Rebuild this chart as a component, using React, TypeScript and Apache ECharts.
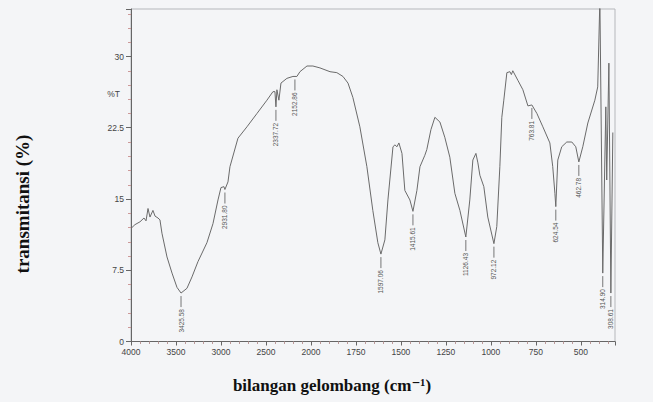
import React, { useEffect, useRef } from "react";
import * as echarts from "echarts";

const wavenumber = [4000,3956,3900,3856,3833,3811,3789,3756,3733,3700,3678,3656,3600,3544,3489,3444,3378,3322,3256,3156,3089,3033,3000,2967,2956,2922,2900,2811,2711,2600,2489,2422,2400,2389,2378,2356,2333,2267,2200,2156,2122,2044,1989,1950,1894,1856,1822,1794,1767,1728,1689,1656,1628,1611,1589,1572,1544,1533,1522,1511,1494,1478,1450,1433,1411,1394,1367,1356,1333,1311,1283,1256,1228,1200,1172,1139,1117,1100,1083,1072,1061,1039,1017,983,967,950,939,928,911,894,886,878,850,822,794,772,744,711,672,656,644,639,628,606,578,550,528,511,489,461,422,406,394,378,361,356,344,333,322];
const transmittance = [11.9,12.3,12.6,13.0,12.7,14.0,13.1,13.8,13.2,13.0,12.8,11.4,8.9,7.2,5.7,5.1,5.6,6.8,8.4,10.4,12.4,14.9,16.2,16.3,16.0,16.8,18.4,21.4,22.6,24.0,25.4,26.3,26.3,24.7,26.5,25.4,27.2,27.7,27.9,27.9,28.4,29.0,29.0,28.8,28.4,28.3,27.9,27.2,25.7,22.6,18.4,13.8,10.4,9.2,10.7,14.9,20.5,20.7,20.5,20.9,19.8,15.9,14.9,13.7,15.9,18.4,19.6,20.2,22.3,23.6,23.1,21.5,19.4,15.6,13.8,11.0,14.9,19.1,19.8,18.8,17.5,16.3,13.1,10.3,12.1,18.4,23.6,25.4,28.3,28.4,28.1,28.5,27.5,26.5,24.8,24.9,24.0,22.6,20.9,18.4,15.6,14.2,19.1,20.5,21.0,21.0,20.5,18.9,20.5,23.0,25.4,26.8,36,7.2,24.7,17.0,29.3,5.1,22];

// peak annotations
const peakLabels = ["3425.58","2931.80","2337.72","2152.86","1597.06","1415.61","1126.43","972.12","763.81","624.54","462.78","314.90","308.61"];
const peakWavenumber = [3444,2956,2389,2178,1611,1433,1139,983,772,639,511,378,333];
const peakTransmittance = [5.1,16.0,24.7,27.9,9.2,13.7,11.0,10.3,24.9,14.2,18.9,7.2,5.1];

// axis ticks
const xTickLabels = [4000,3500,3000,2500,2000,1750,1500,1250,1000,750,500];
const yTickLabels = [0,7.5,15,22.5,30];
const xTitle = "bilangan gelombang (cm\u207B\u00B9)";
const yTitle = "transmitansi (%)";

// the spectrometer axis is expanded x2 below 2000 cm-1
const toP = (w: number) => (w >= 2000 ? 4000 - w : 2000 + 2 * (2000 - w));
const toW = (p: number) => (p <= 2000 ? 4000 - p : 2000 - (p - 2000) / 2);

export default function App() {
  const ref = useRef<HTMLDivElement>(null);
  useEffect(() => {
    if (!ref.current) return;
    const chart = echarts.init(ref.current, null, { renderer: "svg" });
    const lineData = wavenumber.map((w, i) => [toP(w), transmittance[i]]);
    const peakData = peakWavenumber.map((w, i) => [toP(w), peakTransmittance[i]]);
    const tickFont = "Liberation Sans, Arial, sans-serif";
    const titleFont = "Liberation Serif, DejaVu Serif, serif";
    chart.setOption({
      animation: false,
      backgroundColor: "#f4f5f7",
      grid: {
        left: 131,
        right: 38,
        top: 9,
        bottom: 60.5,
        show: true,
        borderColor: "#b5b7bb",
        borderWidth: 1,
      },
      xAxis: {
        type: "value",
        min: 0,
        max: 5380,
        interval: 500,
        axisLine: { show: true, lineStyle: { color: "#666", width: 1 } },
        axisTick: { show: true, length: 4, lineStyle: { color: "#666" } },
        minorTick: { show: true, splitNumber: 5, length: 2.5, lineStyle: { color: "#b99" } },
        splitLine: { show: false },
        axisLabel: {
          showMaxLabel: false,
          fontSize: 8.5,
          fontFamily: tickFont,
          color: "#444",
          margin: 6,
          formatter: (v: number) => {
            const w = Math.round(toW(v));
            return xTickLabels.indexOf(w) >= 0 ? String(w) : "";
          },
        },
      },
      yAxis: {
        type: "value",
        min: 0,
        max: 35,
        interval: 7.5,
        axisLine: { show: true, lineStyle: { color: "#666", width: 1 } },
        axisTick: { show: true, length: 5, lineStyle: { color: "#666" } },
        minorTick: { show: true, splitNumber: 5, length: 3, lineStyle: { color: "#c99" } },
        splitLine: { show: false },
        axisLabel: {
          showMaxLabel: false,
          fontSize: 8.5,
          fontFamily: tickFont,
          color: "#444",
          margin: 7,
          formatter: (v: number) => (yTickLabels.indexOf(v) >= 0 ? String(v) : ""),
        },
      },
      graphic: [
        {
          type: "text",
          x: 120,
          y: 94,
          style: {
            text: "%T",
            fontSize: 8.5,
            fontFamily: tickFont,
            fill: "#444",
            align: "right",
            verticalAlign: "middle",
          },
        },
        {
          type: "text",
          x: 332,
          y: 385,
          style: {
            text: xTitle,
            fontSize: 17,
            fontWeight: "bold",
            fontFamily: titleFont,
            fill: "#111",
            align: "center",
            verticalAlign: "middle",
          },
        },
        {
          type: "text",
          x: 22,
          y: 204,
          rotation: Math.PI / 2,
          style: {
            text: yTitle,
            fontSize: 19,
            fontWeight: "bold",
            fontFamily: titleFont,
            fill: "#111",
            align: "center",
            verticalAlign: "middle",
          },
        },
      ],
      series: [
        {
          type: "line",
          data: lineData,
          showSymbol: false,
          symbol: "none",
          clip: true,
          lineStyle: { color: "#6a6a6a", width: 1 },
          z: 3,
        },
        {
          type: "custom",
          data: peakData,
          clip: false,
          z: 4,
          renderItem: (params: any, api: any) => {
            const pt = api.coord([api.value(0), api.value(1)]);
            const label = peakLabels[params.dataIndex];
            return {
              type: "group",
              children: [
                {
                  type: "line",
                  shape: { x1: pt[0], y1: pt[1] + 3, x2: pt[0], y2: pt[1] + 14 },
                  style: { stroke: "#555", lineWidth: 0.8 },
                },
                {
                  type: "text",
                  x: pt[0],
                  y: pt[1] + 16,
                  rotation: Math.PI / 2,
                  style: {
                    text: label,
                    fontSize: 6.5,
                    fontFamily: tickFont,
                    fill: "#555",
                    align: "right",
                    verticalAlign: "middle",
                  },
                },
              ],
            };
          },
        },
      ],
    });
    return () => chart.dispose();
  }, []);
  return (
    <div
      ref={ref}
      style={{ position: "fixed", left: 0, top: 0, width: 653, height: 402 }}
    />
  );
}
